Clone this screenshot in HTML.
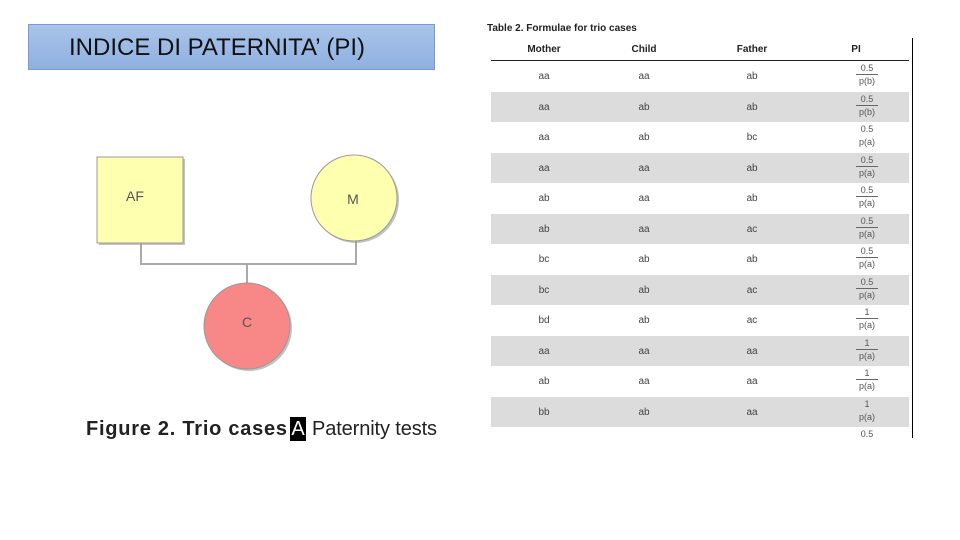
<!DOCTYPE html>
<html><head><meta charset="utf-8"><style>
body{margin:0;width:960px;height:540px;background:#fff;position:relative;overflow:hidden;font-family:"Liberation Sans",sans-serif}
.abs{position:absolute}
#title{left:28px;top:24px;width:407px;height:46px;background:linear-gradient(#a9c4ea,#8fb0e0);border:1px solid #7a9bd0;box-sizing:border-box;font-size:24px;line-height:46px;padding-left:40px;color:#111}
.row{position:absolute;left:491px;width:418px;height:30.5px;font-size:10px;color:#444}
.row span{position:absolute;top:10px;transform:translateX(-50%)}
.pi{position:absolute;left:365px;top:1px;width:22px;text-align:center;font-size:9px;line-height:12px;color:#555}
.pi .n{border-bottom:1px solid #666}
.pi .n.nl{border-bottom:1px solid transparent}
</style></head><body>
<div id="title" class="abs">INDICE DI PATERNITA’ (PI)</div>
<svg class="abs" style="left:0;top:0" width="480" height="460">
<polyline points="141,243 141,264 356,264 356,241" fill="none" stroke="#aaa" stroke-width="2"/>
<line x1="247" y1="264" x2="247" y2="284" stroke="#aaa" stroke-width="2"/>
<rect x="99" y="159" width="86" height="86" fill="#999" opacity=".6"/>
<rect x="97" y="157" width="86" height="86" fill="#ffffb0" stroke="#999"/>
<text x="135" y="201" font-size="14" fill="#555" text-anchor="middle" font-family="Liberation Sans">AF</text>
<circle cx="356" cy="200" r="43" fill="#999" opacity=".6"/>
<circle cx="354" cy="198" r="43" fill="#ffffb0" stroke="#999"/>
<text x="353" y="204" font-size="14" fill="#555" text-anchor="middle" font-family="Liberation Sans">M</text>
<circle cx="249" cy="328" r="43" fill="#999" opacity=".6"/>
<circle cx="247" cy="326" r="43" fill="#f88888" stroke="#999"/>
<text x="247" y="327" font-size="14" fill="#555" text-anchor="middle" font-family="Liberation Sans">C</text>
<text x="86" y="435" font-size="20" font-weight="bold" fill="#222" font-family="Liberation Sans" textLength="201">Figure 2. Trio cases</text>
<rect x="290" y="417" width="16" height="24" fill="#000"/>
<text x="298" y="435" font-size="20" fill="#fff" text-anchor="middle" font-family="Liberation Sans">A</text>
<text x="312" y="435" font-size="20" fill="#222" font-family="Liberation Sans" textLength="125">Paternity tests</text>
</svg>
<div class="abs" style="left:487px;top:23px;font-size:10px;font-weight:bold;color:#222">Table 2. Formulae for trio cases</div>
<div class="abs" style="left:912px;top:38px;width:1px;height:400px;background:#000"></div>
<div class="abs" style="left:491px;top:44px;width:418px;height:16px;font-size:10px;font-weight:bold;color:#222">
<span class="abs" style="left:53px;transform:translateX(-50%)">Mother</span>
<span class="abs" style="left:153px;transform:translateX(-50%)">Child</span>
<span class="abs" style="left:261px;transform:translateX(-50%)">Father</span>
<span class="abs" style="left:365px;transform:translateX(-50%)">PI</span></div>
<div class="abs" style="left:491px;top:60px;width:418px;height:1px;background:#222"></div>
<div id="tbl"></div>
<script>
const mothers=["aa","aa","aa","aa","ab","ab","bc","bc","bd","aa","ab","bb",""];
const childs=["aa","ab","ab","aa","aa","aa","ab","ab","ab","aa","aa","ab",""];
const fathers=["ab","ab","bc","ab","ab","ac","ab","ac","ac","aa","aa","aa",""];
const nums=["0.5","0.5","0.5","0.5","0.5","0.5","0.5","0.5","1","1","1","1","0.5"];
const dens=["p(b)","p(b)","p(a)","p(a)","p(a)","p(a)","p(a)","p(a)","p(a)","p(a)","p(a)","p(a)",""];
const tbl=document.getElementById('tbl');
for(let i=0;i<mothers.length;i++){
 const r=document.createElement('div');r.className='row';
 
 
 r.style.top=(61+i*30.5)+'px';
 if(i===12)r.style.height='16px',r.style.overflow='hidden';
 if(i%2===1)r.style.background='#dcdcdc';
 const nl=(i===2||i===11||i===12)?' nl':'';
 r.innerHTML='<span style="left:53px">'+mothers[i]+'</span><span style="left:153px">'+childs[i]+'</span><span style="left:261px">'+fathers[i]+'</span><div class="pi"><div class="n'+nl+'">'+nums[i]+'</div><div>'+dens[i]+'</div></div>';
 tbl.appendChild(r);
}
</script>
</body></html>
